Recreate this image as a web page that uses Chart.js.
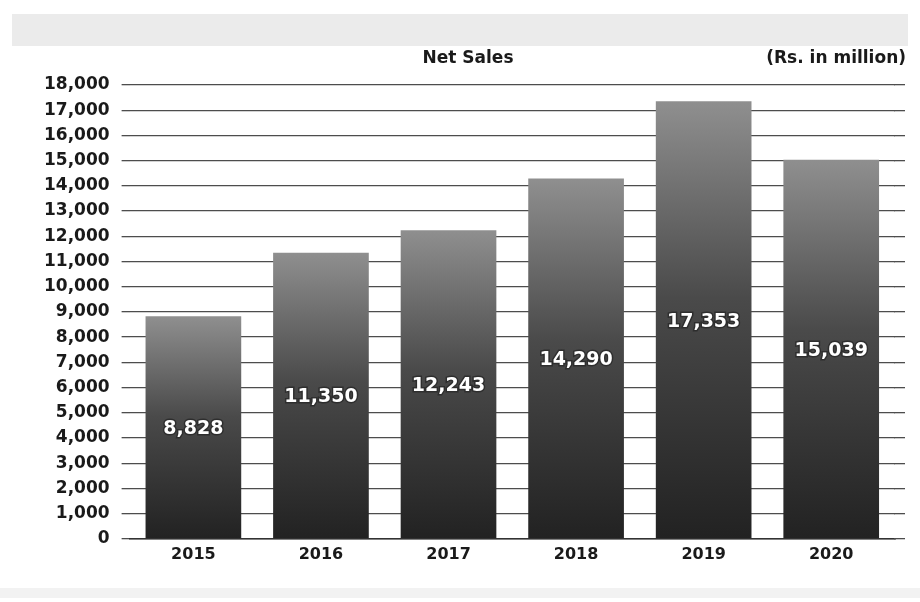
<!DOCTYPE html>
<html>
<head>
<meta charset="utf-8">
<script src="https://cdn.jsdelivr.net/npm/chart.js@4"></script>
<style>
  html, body { margin: 0; padding: 0; background: #ffffff; }
  #wrap { width: 920px; height: 602px; position: relative; }
</style>
</head>
<body>
<div id="wrap"><canvas id="c" width="920" height="602"></canvas></div>
<script>
// Net sales by year (Rs. in million)
const years = ['2015', '2016', '2017', '2018', '2019', '2020'];
const netSales = [8828, 11350, 12243, 14290, 17353, 15039];
const yMin = 0;
const yMax = 18000;
const yStep = 1000;

const fmt = v => v.toLocaleString('en-US');
const GRID_COLOR = '#4d4d4d';
const GRID_WIDTH = 1.3;

// Vertical grey fill per bar: dark at the base, lighter towards the top
function barFill(ctx) {
  const chart = ctx.chart;
  const y = chart.scales.y;
  if (!chart.chartArea || !y || ctx.parsed == null) return '#555555';
  const top = y.getPixelForValue(ctx.parsed.y);
  const base = y.getPixelForValue(0);
  const g = chart.ctx.createLinearGradient(0, base, 0, top);
  g.addColorStop(0, '#222222');
  g.addColorStop(0.55, '#4a4a4a');
  g.addColorStop(1, '#8f8f8f');
  return g;
}

// same pixel snapping Chart.js uses for its grid lines
function snap(chart, pixel, width) {
  const dpr = chart.currentDevicePixelRatio;
  const half = width / 2;
  return Math.round((pixel - half) * dpr) / dpr + half;
}

// Header band, grid extension, captions and value labels inside the bars
const decorations = {
  id: 'decorations',
  beforeDraw(chart) {
    const c = chart.ctx;
    c.save();
    c.fillStyle = '#ebebeb';
    c.fillRect(12, 14, 896, 32);
    c.fillStyle = '#f2f2f2';
    c.fillRect(0, 588, 920, 10);
    c.restore();
  },
  beforeDatasetsDraw(chart) {
    // grid lines run a little past the last category
    const c = chart.ctx;
    const area = chart.chartArea;
    const y = chart.scales.y;
    c.save();
    c.strokeStyle = GRID_COLOR;
    c.lineWidth = GRID_WIDTH;
    y.ticks.forEach(t => {
      const py = snap(chart, y.getPixelForValue(t.value), GRID_WIDTH);
      c.beginPath();
      c.moveTo(area.right - 1, py);
      c.lineTo(area.right + 10, py);
      c.stroke();
    });
    c.restore();
  },
  afterDatasetsDraw(chart) {
    const c = chart.ctx;
    const meta = chart.getDatasetMeta(0);
    c.save();
    c.font = 'bold 19px "DejaVu Sans", sans-serif';
    c.textAlign = 'center';
    c.textBaseline = 'middle';
    meta.data.forEach((bar, i) => {
      const mid = (bar.y + bar.base) / 2 + 2;
      c.lineWidth = 3;
      c.strokeStyle = 'rgba(40,40,40,0.8)';
      c.strokeText(fmt(netSales[i]), bar.x, mid);
      c.fillStyle = '#ffffff';
      c.fillText(fmt(netSales[i]), bar.x, mid);
    });
    c.font = 'bold 17px "DejaVu Sans", sans-serif';
    c.fillStyle = '#1a1a1a';
    c.textBaseline = 'middle';
    c.textAlign = 'center';
    c.fillText('Net Sales', 468, 59);
    c.textAlign = 'right';
    c.fillText('(Rs. in million)', 906, 59);
    c.restore();
  }
};

new Chart(document.getElementById('c'), {
  type: 'bar',
  data: {
    labels: years,
    datasets: [{
      label: 'Net Sales',
      data: netSales,
      backgroundColor: barFill,
      borderWidth: 0,
      barPercentage: 0.75,
      categoryPercentage: 1.0
    }]
  },
  options: {
    responsive: false,
    animation: false,
    layout: { padding: { left: 32, right: 25, top: 85, bottom: 32 } },
    plugins: {
      legend: { display: false },
      tooltip: { enabled: false }
    },
    scales: {
      x: {
        grid: { display: false, drawTicks: false },
        border: { display: true, color: '#333333', width: 1.5 },
        ticks: {
          color: '#1a1a1a',
          padding: 6,
          font: { family: '"DejaVu Sans", sans-serif', size: 16, weight: 'bold' }
        }
      },
      y: {
        min: yMin,
        max: yMax,
        grid: { color: GRID_COLOR, lineWidth: GRID_WIDTH, tickLength: 8 },
        border: { display: false },
        ticks: {
          stepSize: yStep,
          color: '#1a1a1a',
          padding: 12,
          callback: v => fmt(v),
          font: { family: '"DejaVu Sans", sans-serif', size: 17, weight: 'bold' }
        }
      }
    }
  },
  plugins: [decorations]
});
</script>
</body>
</html>
